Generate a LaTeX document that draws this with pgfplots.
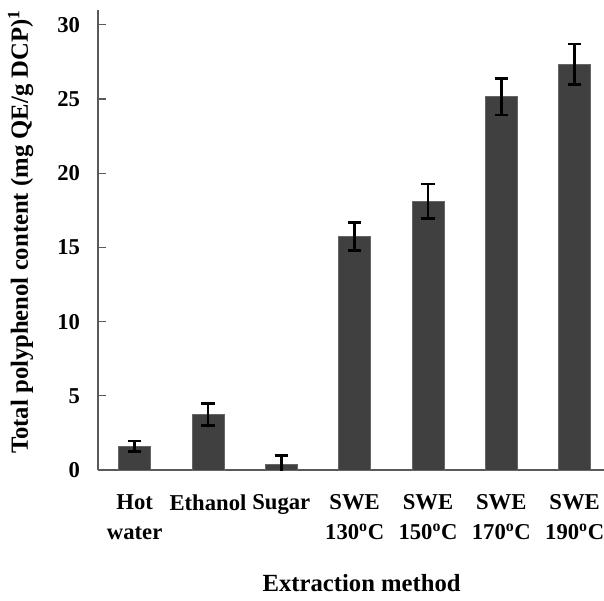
\documentclass[border=0pt]{standalone}
\usepackage{fontspec}
\setmainfont{Liberation Serif}
\usepackage{pgfplots}
\pgfplotsset{compat=1.18}
\usetikzlibrary{calc}
\definecolor{barfill}{RGB}{64,64,64}

\pgfplotstableread{
x y e
0 1.6 0.35
1 3.75 0.75
2 0.4 0.6
3 15.75 0.95
4 18.1 1.17
5 25.15 1.22
6 27.35 1.35
}\polydata

\begin{document}
\begin{tikzpicture}
\begin{axis}[
  scale only axis,
  width=379.5pt, height=345pt,
  ybar, bar width=24pt,
  xmin=-0.5, xmax=6.4,
  ymin=0, ymax=31,
  ytick={0,5,...,30},
  xtick=data,
  xticklabels={{Hot\\water}, Ethanol, Sugar, {SWE\\130\textsuperscript{o}C}, {SWE\\150\textsuperscript{o}C}, {SWE\\170\textsuperscript{o}C}, {SWE\\190\textsuperscript{o}C}},
  axis x line*=bottom, axis y line*=left,
  axis line style={black!65, line width=0.8pt},
  tick align=inside,
  xtick style={draw=none},
  ytick style={black!65, line width=0.8pt},
  major tick length=6pt,
  /pgf/number format/assume math mode=true,
  ticklabel style={font=\fontsize{17}{22.5}\selectfont\bfseries},
  xticklabel style={align=center, yshift=-15pt},
  yticklabel style={xshift=-10pt},
  xlabel={Extraction method},
  ylabel={Total polyphenol content (mg QE/g DCP)\textsuperscript{1}},
  label style={font=\fontsize{18.5}{20}\selectfont\bfseries},
  xlabel style={at={(axis description cs:0.5,0)}, anchor=north, yshift=-75pt, xshift=8pt},
  ylabel style={at={(axis description cs:0,0.5)}, anchor=center, yshift=58pt, xshift=6pt},
]
\addplot[fill=barfill, draw=black!60, line width=0.5pt,
  error bars/.cd, y dir=both, y explicit,
  error bar style={black, line width=2pt},
  error mark options={black, line width=2pt, mark size=5pt, rotate=90}]
  table[x=x, y=y, y error=e]{\polydata};
\end{axis}
\pgfresetboundingbox
\path ($(current axis.south west)+(-73.5pt,-97.5pt)$) rectangle ($(current axis.north east)+(0pt,7.5pt)$);
\end{tikzpicture}
\end{document}
